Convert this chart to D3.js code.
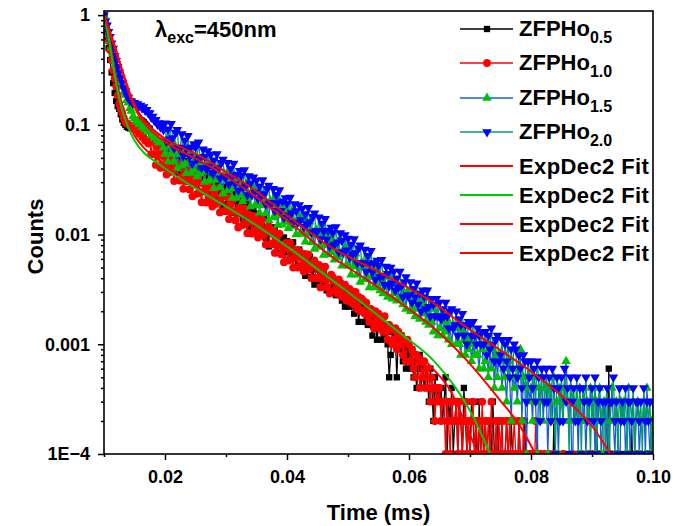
<!DOCTYPE html>
<html>
<head>
<meta charset="utf-8">
<script src="https://cdn.jsdelivr.net/npm/d3@7"></script>
<style>
  body { margin: 0; background: #fff; }
  svg text { font-family: "Liberation Sans", Arial, sans-serif; font-weight: bold; fill: #000; }
</style>
</head>
<body>
<div id="wrapper"></div>
<script>
// decay data: one value every 0.00025 ms starting at 0.010 ms, raw counts (peak = 10000)
// each row of ten is 0.0025 ms
const time_start = 0.010 ;
const time_step = 0.00025 ;
const peak_counts = 10000 ;

const counts_05 = [
  10000,8000,6300,5000,3900,3000,2400,1950,1650,1480,
  1400,1250,1120,1040,1000,960,940,930,935,960,
  990,1030,1060,1090,1100,1090,1060,1020,980,940,
  920,840,835,770,765,700,690,640,645,595,
  516,690,433,602,505,657,424,515,365,548,
  489,380,544,391,317,469,400,312,448,326,
  414,282,365,295,410,304,244,336,358,247,
  245,330,208,291,246,321,208,254,181,274,
  244,190,272,195,158,234,200,156,224,163,
  207,140,180,145,200,147,118,162,172,118,
  116,155,97,133,112,144,93,112,78,117,
  104,81,116,83,68,99,85,66,94,69,
  87,59,76,62,85,63,51,69,73,50,
  50,67,42,58,48,63,41,49,35,52,
  48,38,44,35,46,39,31,40,41,30,
  33,38,28,35,29,36,25,31,22,32,
  29,22,30,23,19,26,24,16,25,20,
  22,16,21,15,20,16,12,18,17,11,
  14,18,11,16,12,14,10,5,8,13,
  10,12,5,11,9,12,7,10,6,9,
  8,6,9,5,7,4,6,8,4,6,
  4,6,5,3,6,4,2,5,3,4,
  3,4,2,3,5,1,3,2,4,1,
  2,3,1,3,2,1,4,2,1,2,
  1,3,2,1,2,0,3,1,2,1,
  2,1,0,2,1,3,1,0,2,1,
  1,2,0,1,2,1,0,2,1,0,
  1,0,2,1,0,1,2,0,1,1,
  0,1,1,0,2,0,1,0,1,0,
  1,0,0,1,0,2,0,1,0,0,
  0,1,0,0,1,0,1,0,0,1,
  0,0,1,0,1,0,0,1,0,0,
  1,0,0,2,0,1,0,0,1,0,
  0,6,0,0,1,0,0,1,0,0,
  1,0,0,1,0,0,2,0,0,1,
  0,1,0,0,1,0,0,1,0,0,
  0] ;

const counts_10 = [
  10000,8300,6900,5800,4800,3900,3150,2650,2250,1850,
  1560,1400,1280,1150,1060,1030,1010,980,950,945,
  950,900,895,830,835,775,770,720,725,675,
  707,541,763,540,431,628,529,406,573,410,
  518,352,456,370,514,382,307,422,451,313,
  310,415,261,363,306,399,258,314,223,337,
  302,235,337,242,197,293,251,196,282,206,
  265,180,234,190,265,198,159,220,235,164,
  163,219,138,191,161,210,135,164,116,176,
  156,122,174,126,103,153,131,102,148,108,
  138,94,121,98,136,101,81,111,119,82,
  82,109,68,94,79,102,66,80,56,84,
  75,58,84,60,50,73,63,50,71,52,
  67,46,58,48,66,49,40,54,58,40,
  40,53,33,46,39,51,33,40,29,43,
  41,31,38,29,39,33,27,34,35,25,
  27,32,24,30,23,30,21,27,20,26,
  25,19,24,18,16,21,20,14,20,16,
  19,14,17,13,18,13,11,15,14,10,
  11,14,9,13,10,12,8,11,7,11,
  10,7,9,6,5,8,7,4,7,5,
  7,4,6,5,3,5,4,2,4,3,
  4,2,3,3,1,3,2,1,3,2,
  2,3,1,3,2,1,2,3,1,2,
  1,2,3,1,2,1,2,1,3,1,
  2,1,2,1,3,1,0,2,1,2,
  1,2,0,1,2,1,2,0,1,2,
  1,0,2,1,0,2,1,1,0,1,
  0,1,0,2,1,0,1,0,0,1,
  0,0,1,0,0,0,1,0,0,0,
  0,1,0,0,0,0,0,1,0,0,
  0,0,0,1,0,0,0,0,1,0,
  1,0,0,0,0,1,0,0,0,0,
  0,0,1,0,0,0,0,1,0,0,
  0,0,0,0,1,0,0,0,0,1,
  0,1,0,0,0,0,1,0,0,0,
  0] ;

const counts_15 = [
  10000,8700,7680,6640,5870,5070,4490,3870,3420,2960,
  2620,2370,2220,2000,1870,1680,1590,1420,1340,1190,
  1140,1070,1080,1010,1020,955,965,905,915,860,
  890,800,830,760,790,715,690,700,690,620,
  542,729,461,643,543,711,461,562,400,604,
  541,423,611,442,362,539,464,364,527,385,
  495,338,440,359,501,374,302,418,448,311,
  310,419,265,372,315,414,270,330,236,358,
  322,252,364,263,215,320,275,216,313,229,
  293,201,261,213,298,222,179,249,266,185,
  185,249,157,218,184,241,156,190,135,204,
  182,143,206,149,122,182,157,123,178,130,
  167,114,147,120,168,124,100,139,148,103,
  101,136,86,120,101,131,85,104,74,111,
  99,77,111,80,65,97,83,66,94,69,
  87,59,77,62,88,65,52,72,77,53,
  52,70,43,60,51,67,43,53,37,56,
  50,39,56,41,33,49,42,33,47,34,
  42,31,39,29,41,33,27,36,38,26,
  29,35,25,32,26,33,23,29,21,30,
  27,20,28,21,18,25,23,17,24,19,
  22,16,20,15,21,16,13,18,19,12,
  14,18,12,16,13,17,11,14,10,15,
  14,10,14,10,8,13,11,8,12,9,
  11,7,10,8,12,8,6,10,9,6,
  7,10,5,9,6,9,4,8,5,8,
  7,4,6,5,3,7,5,2,6,4,
  5,3,6,9,2,5,4,1,5,3,
  4,2,5,3,1,4,3,5,2,4,
  4,1,3,4,2,5,2,3,1,4,
  3,2,4,7,3,2,4,0,3,2,
  3,1,4,2,2,3,1,3,2,4,
  2,3,1,3,2,4,1,2,3,1,
  3,1,2,4,2,1,3,2,0,3,
  2,3,1,2,4,1,2,3,1,2,
  3,1,2,2,3,1,4,2,1,2,
  2] ;

const counts_20 = [
  10000,8850,8060,7050,6350,5550,4950,4260,3830,3380,
  3020,2680,2430,2170,2030,1840,1770,1660,1640,1570,
  1590,1520,1550,1480,1500,1420,1450,1350,1370,1280,
  1280,1170,1190,1090,1110,1010,1040,950,980,900,
  1035,704,912,739,1025,760,612,847,900,621,
  615,826,521,724,609,794,513,624,444,670,
  624,486,695,500,405,599,512,400,576,419,
  535,366,476,388,541,404,326,451,484,337,
  335,452,287,400,339,444,289,353,252,382,
  343,268,387,280,229,341,293,230,332,242,
  311,212,276,224,314,234,189,261,280,195,
  194,261,165,230,194,254,165,201,143,215,
  192,150,217,157,128,190,164,129,186,136,
  173,118,154,125,175,130,105,145,156,108,
  108,144,91,126,107,139,90,109,78,116,
  104,81,117,85,69,103,88,69,99,72,
  92,62,81,66,91,68,55,75,80,55,
  55,73,46,64,54,71,45,55,39,58,
  52,41,59,42,35,51,44,34,50,36,
  46,31,40,33,46,34,27,37,41,28,
  28,37,24,32,27,36,23,29,20,31,
  27,21,31,22,18,26,23,18,26,18,
  24,17,21,18,24,18,14,20,21,14,
  15,20,12,17,15,19,12,15,10,16,
  15,12,16,12,10,14,12,10,13,10,
  13,8,12,9,14,10,7,11,12,7,
  8,11,6,10,7,11,5,9,6,10,
  9,5,8,6,4,8,7,3,7,5,
  7,4,6,3,7,5,2,6,5,3,
  6,3,5,2,6,4,1,5,4,2,
  5,2,6,3,4,1,5,3,4,2,
  5,2,4,1,4,3,5,2,3,1,
  4,2,5,1,3,4,2,3,0,3,
  4,1,3,3,5,2,3,1,4,2,
  3,2,4,1,3,3,2,4,1,3,
  3,2,3,1,4,2,3,2,3,1,
  3] ;

// ExpDec2 fit curves: [time (ms), normalized counts]
const fit_05 = [[0.0100,1.0],[0.0107,0.70],[0.0114,0.42],[0.0121,0.25],[0.0130,0.15],[0.0138,0.11],
  [0.0150,0.08],[0.0165,0.062],[0.0185,0.05],[0.0203,0.042],[0.0230,0.033],[0.0257,0.026],
  [0.0300,0.0185],[0.0356,0.0115],[0.0421,0.0061],[0.0475,0.0036],[0.0531,0.0020],
  [0.0585,0.00113],[0.0639,0.00060],[0.0670,0.00036],[0.0689,0.00021],[0.0713,0.0001]] ;
const fit_10 = [[0.0100,1.0],[0.0107,0.65],[0.0114,0.38],[0.0121,0.22],[0.0130,0.135],[0.0138,0.100],
  [0.0150,0.072],[0.0165,0.056],[0.0185,0.046],[0.0203,0.039],[0.0230,0.031],[0.0257,0.025],
  [0.0300,0.018],[0.0356,0.0115],[0.0421,0.0064],[0.0475,0.0038],[0.0531,0.0022],
  [0.0585,0.00127],[0.0639,0.00072],[0.0678,0.00039],[0.0705,0.00022],[0.0733,0.0001]] ;
const fit_15 = [[0.0100,1.0],[0.0110,0.68],[0.0121,0.44],[0.0132,0.28],[0.0143,0.18],[0.0155,0.128],
  [0.0175,0.091],[0.0200,0.070],[0.0257,0.047],[0.0300,0.034],[0.0340,0.024],[0.0400,0.0135],
  [0.0475,0.0062],[0.0530,0.0039],[0.0585,0.0024],[0.0639,0.00143],[0.0694,0.00072],
  [0.0749,0.00031],[0.0782,0.00018],[0.0807,0.0001]] ;
const fit_20 = [[0.0100,1.0],[0.0110,0.70],[0.0121,0.46],[0.0132,0.29],[0.0143,0.19],[0.0155,0.135],
  [0.0175,0.097],[0.0200,0.075],[0.0257,0.052],[0.0300,0.037],[0.0340,0.027],[0.0400,0.0150],
  [0.0475,0.0075],[0.0530,0.0052],[0.0585,0.0036],[0.0639,0.0024],[0.0694,0.00143],
  [0.0749,0.00089],[0.0803,0.00055],[0.0858,0.00031],[0.0900,0.00018],[0.0930,0.0001]] ;

const sample_names = ["0.5", "1.0", "1.5", "2.0"] ;
const fit_label = "ExpDec2 Fit" ;
const x_major = [0.02, 0.04, 0.06, 0.08, 0.10] ;
const x_minor = [0.01, 0.03, 0.05, 0.07, 0.09] ;
const y_major = [1, 0.1, 0.01, 0.001, 0.0001] ;
const y_labels = ["1", "0.1", "0.01", "0.001", "1E\u22124"] ;

// styles
const line_colors   = ["#000000", "#ff0000", "#1a5ce0", "#00a060"] ;
const marker_colors = ["#000000", "#ff0000", "#00c000", "#0000ff"] ;
const marker_kinds  = ["square", "circle", "triangle", "triangleDown"] ;
const fit_colors    = ["#ff0000", "#00cc00", "#ff0000", "#ff0000"] ;

const symbols = {
  square:       d3.symbol().type(d3.symbolSquare).size(40),
  circle:       d3.symbol().type(d3.symbolCircle).size(48),
  triangle:     d3.symbol().type(d3.symbolTriangle).size(40),
  triangleDown: d3.symbol().type(d3.symbolTriangle).size(40),
} ;

function symbolTransform(kind, px, py) {
  return `translate(${px},${py})` + (kind == "triangleDown" ? " rotate(180)" : "") ;
}

function drawDecay() {
  let dimensions = {
    width: 688,
    height: 526,
    margin: { top: 11, right: 35, bottom: 72, left: 104 },
  }
  dimensions.boundedWidth = dimensions.width - dimensions.margin.left - dimensions.margin.right
  dimensions.boundedHeight = dimensions.height - dimensions.margin.top - dimensions.margin.bottom

  const svg = d3.select("#wrapper").append("svg")
      .attr("width", dimensions.width)
      .attr("height", dimensions.height) ;

  svg.append("defs").append("clipPath").attr("id", "plot-clip")
    .append("rect")
      .attr("width", dimensions.boundedWidth)
      .attr("height", dimensions.boundedHeight) ;

  const bounds = svg.append("g")
      .attr("transform", `translate(${dimensions.margin.left},${dimensions.margin.top})`) ;

  const xScale = d3.scaleLinear()
    .domain([0.01, 0.10])
    .range([0, dimensions.boundedWidth]) ;

  const yScale = d3.scaleLog()
    .domain([1e-4, 1.09])
    .range([dimensions.boundedHeight, 0]) ;

  const plot = bounds.append("g").attr("clip-path", "url(#plot-clip)") ;

  const lineGen = d3.line()
    .x(d => xScale(d.t))
    .y(d => yScale(d.v)) ;

  const allCounts = [counts_05, counts_10, counts_15, counts_20] ;
  allCounts.forEach((counts, k) => {
    // zero counts fall below the axis floor
    const pts = counts.map((c, i) => ({ t: time_start + i * time_step, v: Math.max(c / peak_counts, 4e-5) })) ;
    plot.append("path")
      .datum(pts)
      .attr("d", lineGen)
      .attr("fill", "none")
      .attr("stroke", line_colors[k])
      .attr("stroke-width", 1.3) ;
    plot.append("g")
      .selectAll("path")
      .data(pts)
      .join("path")
        .attr("transform", d => symbolTransform(marker_kinds[k], xScale(d.t), yScale(d.v)))
        .attr("d", symbols[marker_kinds[k]]())
        .attr("fill", marker_colors[k]) ;
  }) ;

  const fitGen = d3.line()
    .x(d => xScale(d[0]))
    .y(d => yScale(d[1]))
    .curve(d3.curveMonotoneX) ;

  [fit_05, fit_10, fit_15, fit_20].forEach((fit, k) => {
    plot.append("path")
      .datum(fit)
      .attr("d", fitGen)
      .attr("fill", "none")
      .attr("stroke", fit_colors[k])
      .attr("stroke-width", 2) ;
  }) ;

  // frame
  bounds.append("rect")
    .attr("width", dimensions.boundedWidth)
    .attr("height", dimensions.boundedHeight)
    .attr("fill", "none")
    .attr("stroke", "#000")
    .attr("stroke-width", 1.6) ;

  // x axis
  const xAxis = bounds.append("g")
    .attr("transform", `translate(0,${dimensions.boundedHeight})`)
    .call(d3.axisBottom(xScale).tickValues(x_major).tickSize(6).tickSizeOuter(0).tickPadding(10)
      .tickFormat(d3.format(".2f"))) ;
  const xMinor = bounds.append("g")
    .attr("transform", `translate(0,${dimensions.boundedHeight})`)
    .call(d3.axisBottom(xScale).tickValues(x_minor).tickSize(3).tickSizeOuter(0).tickFormat("")) ;

  // y axis
  const yAxis = bounds.append("g")
    .call(d3.axisLeft(yScale).tickValues(y_major).tickSize(6).tickSizeOuter(0).tickPadding(8)
      .tickFormat((d, i) => y_labels[i])) ;
  const yMinor = bounds.append("g")
    .call(d3.axisLeft(yScale).tickValues(yScale.ticks().filter(d => !y_major.some(m => Math.abs(m - d) < m * 1e-6)))
      .tickSize(3).tickSizeOuter(0).tickFormat("")) ;

  [xAxis, xMinor, yAxis, yMinor].forEach(ax => {
    ax.select(".domain").remove() ;
    ax.selectAll(".tick line").attr("stroke", "#000").attr("stroke-width", 1.5) ;
  }) ;
  xAxis.selectAll("text").style("font-size", "18px") ;
  yAxis.selectAll("text").style("font-size", "18px") ;

  // axis titles
  svg.append("text")
    .attr("x", dimensions.margin.left + dimensions.boundedWidth / 2)
    .attr("y", 520)
    .attr("text-anchor", "middle")
    .style("font-size", "22px")
    .text("Time (ms)") ;
  svg.append("text")
    .attr("transform", `translate(43,${dimensions.margin.top + dimensions.boundedHeight / 2 + 4}) rotate(-90)`)
    .attr("text-anchor", "middle")
    .style("font-size", "22px")
    .text("Counts") ;

  // excitation label
  const lam = svg.append("text")
    .attr("x", 155)
    .attr("y", 37)
    .style("font-size", "22px") ;
  lam.append("tspan").text("\u03bb") ;
  lam.append("tspan").attr("dy", 6).style("font-size", "16px").text("exc") ;
  lam.append("tspan").attr("dy", -6).text("=450nm") ;

  // legend
  const legend = svg.append("g") ;
  const rowY = [29, 63, 98, 132, 166, 195, 224, 253] ;
  sample_names.forEach((name, k) => {
    const row = legend.append("g").attr("transform", `translate(0,${rowY[k]})`) ;
    row.append("line").attr("x1", 460).attr("x2", 513)
      .attr("stroke", line_colors[k]).attr("stroke-width", 1.6) ;
    row.append("path")
      .attr("transform", symbolTransform(marker_kinds[k], 487, 0))
      .attr("d", symbols[marker_kinds[k]]())
      .attr("fill", marker_colors[k]) ;
    const t = row.append("text").attr("x", 519).attr("y", 7).style("font-size", "22px") ;
    t.append("tspan").text("ZFPHo") ;
    t.append("tspan").attr("dy", 7).style("font-size", "16px").text(name) ;
  }) ;
  fit_colors.forEach((col, k) => {
    const row = legend.append("g").attr("transform", `translate(0,${rowY[k + 4]})`) ;
    row.append("line").attr("x1", 460).attr("x2", 513)
      .attr("stroke", col).attr("stroke-width", 2) ;
    row.append("text").attr("x", 519).attr("y", 8)
      .style("font-size", "22px").style("letter-spacing", "0.4px").text(fit_label) ;
  }) ;
}

drawDecay() ;
</script>
</body>
</html>
